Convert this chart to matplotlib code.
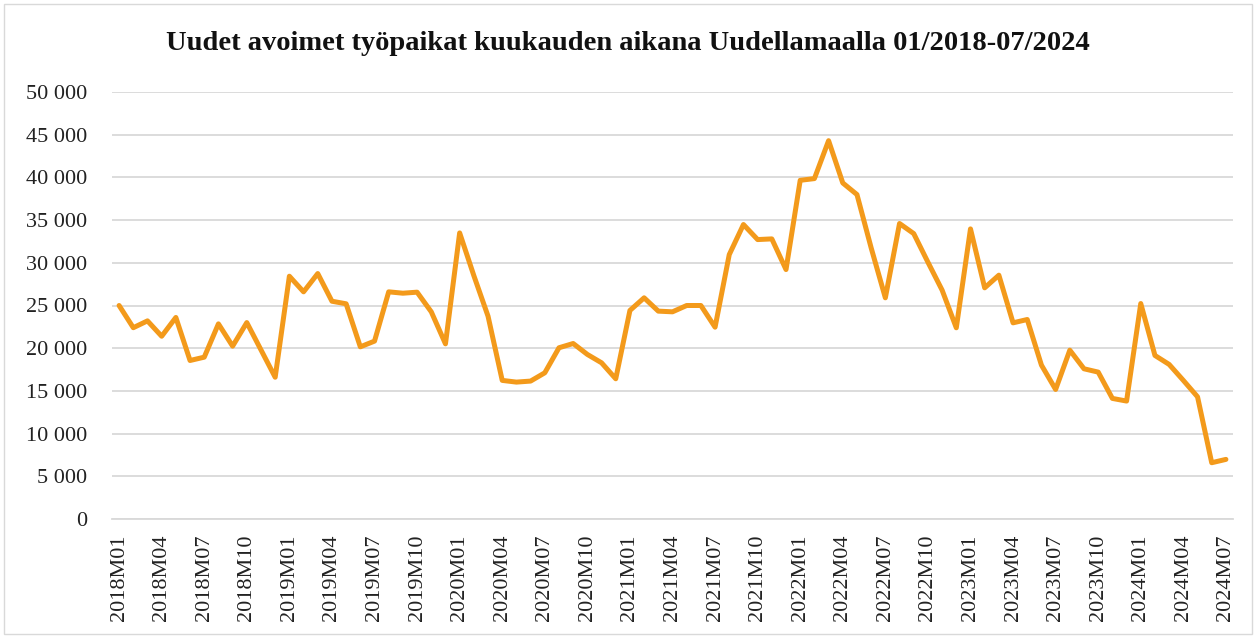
import matplotlib
matplotlib.use("Agg")
import matplotlib.pyplot as plt
from matplotlib.ticker import FuncFormatter, MultipleLocator
from matplotlib.patches import Rectangle

years = [2018, 2019, 2020, 2021, 2022, 2023, 2024]
months_per_year = [12, 12, 12, 12, 12, 12, 7]
categories = [f"{y}M{m:02d}" for y, n in zip(years, months_per_year) for m in range(1, n + 1)]

values = [
    # 2018
    25000, 22400, 23200, 21400, 23600, 18560, 18950, 22850, 20240, 23000, 19800, 16600,
    # 2019
    28430, 26600, 28740, 25500, 25200, 20160, 20830, 26600, 26440, 26560, 24260, 20510,
    # 2020
    33500, 28500, 23750, 16230, 16030, 16150, 17120, 20050, 20550, 19270, 18290, 16420,
    # 2021
    24420, 25900, 24340, 24260, 25000, 25000, 22460, 30960, 34480, 32720, 32800, 29210,
    # 2022
    39660, 39860, 44300, 39350, 37990, 31750, 25900, 34600, 33420, 30070, 26800, 22390,
    # 2023
    33970, 27070, 28550, 22970, 23360, 18020, 15170, 19770, 17590, 17200, 14120, 13810,
    # 2024
    25230, 19150, 18100, 16230, 14310, 6590, 6980,
]

title = "Uudet avoimet työpaikat kuukauden aikana Uudellamaalla 01/2018-07/2024"

plt.rcParams['font.family'] = ['Liberation Serif', 'DejaVu Serif']

fig = plt.figure(figsize=(12.56, 6.38), dpi=100)
W, H = 1256, 638
ax = fig.add_axes([112 / W, 1 - 519 / H, (1233 - 112) / W, (519 - 92) / H])

x = list(range(len(categories)))
ax.plot(x, values, color='#F39A1B', linewidth=3.6, solid_joinstyle='round', solid_capstyle='round', zorder=3)

ax.set_xlim(-0.5, len(categories) - 0.5)
ax.set_ylim(0, 50000)
ax.yaxis.set_major_locator(MultipleLocator(5000))
ax.yaxis.set_major_formatter(FuncFormatter(lambda v, p: f"{int(v):,}".replace(",", " ")))
ax.grid(axis='y', color='#D9D9D9', linewidth=1.3, zorder=0)
ax.set_axisbelow(True)

tick_pos = x[::3]
ax.set_xticks(tick_pos)
ax.set_xticklabels([categories[i] for i in tick_pos], rotation=90, fontsize=16, color='#222222')
ax.tick_params(axis='x', length=0, pad=11)
ax.tick_params(axis='y', length=0, pad=18, labelsize=16, labelcolor='#222222')

for s in ['top', 'right', 'left']:
    ax.spines[s].set_visible(False)
ax.spines['bottom'].set_color('#D9D9D9')
ax.spines['bottom'].set_linewidth(1.3)

fig.text(0.5, 1 - 44 / H, title, ha='center', va='center', fontsize=20.5, fontweight='bold', color='#111111')

fig.patches.append(Rectangle((4 / W, 4 / H), 1 - 8 / W, 1 - 8 / H, transform=fig.transFigure,
                             fill=False, edgecolor='#D9D9D9', linewidth=1.0))

fig.savefig("out.png", dpi=100, facecolor='white')
